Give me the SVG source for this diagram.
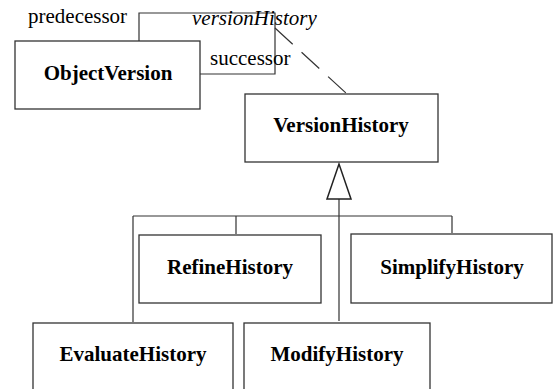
<svg xmlns="http://www.w3.org/2000/svg" width="554" height="389" viewBox="0 0 554 389">
<style>
.box{fill:#fff;stroke:#333;stroke-width:1.3}
.cls{font-family:'Liberation Serif','Times New Roman','DejaVu Serif',serif;font-weight:bold;font-size:21px;text-anchor:middle;fill:#000}
.lbl{font-family:'Liberation Serif','Times New Roman','DejaVu Serif',serif;font-size:21px;fill:#000}
.ln{fill:none;stroke:#333;stroke-width:1.2}
</style>
<rect width="554" height="389" fill="#fff"/>
<g id="connectors">
<path class="ln" d="M139,41 V13 H275 V74 H200"/>
<line class="ln" x1="275" y1="28" x2="346" y2="93" stroke-dasharray="24 12"/>
<path class="ln" d="M339,199 V321 M133,216 H452 M133,216 V322 M236,216 V234 M452,216 V233"/>
<polygon points="339,164 327,199 351,199" fill="#fff" stroke="#222" stroke-width="1.5"/>
<text class="lbl" x="28" y="23">predecessor</text>
<text class="lbl" x="192" y="25" font-style="italic">versionHistory</text>
<text class="lbl" x="210" y="65">successor</text>
</g>
<g id="ObjectVersion"><rect class="box" x="15" y="41" width="185" height="68"/><text class="cls" x="108" y="80">ObjectVersion</text></g>
<g id="VersionHistory"><rect class="box" x="245" y="94" width="193" height="68"/><text class="cls" x="341" y="132">VersionHistory</text></g>
<g id="RefineHistory"><rect class="box" x="139" y="235" width="182" height="68"/><text class="cls" x="230" y="274">RefineHistory</text></g>
<g id="SimplifyHistory"><rect class="box" x="351" y="234" width="201" height="69"/><text class="cls" x="452" y="274">SimplifyHistory</text></g>
<g id="EvaluateHistory"><rect class="box" x="33" y="323" width="200" height="80"/><text class="cls" x="133" y="361">EvaluateHistory</text></g>
<g id="ModifyHistory"><rect class="box" x="244" y="323" width="186" height="80"/><text class="cls" x="337" y="361">ModifyHistory</text></g>
</svg>
